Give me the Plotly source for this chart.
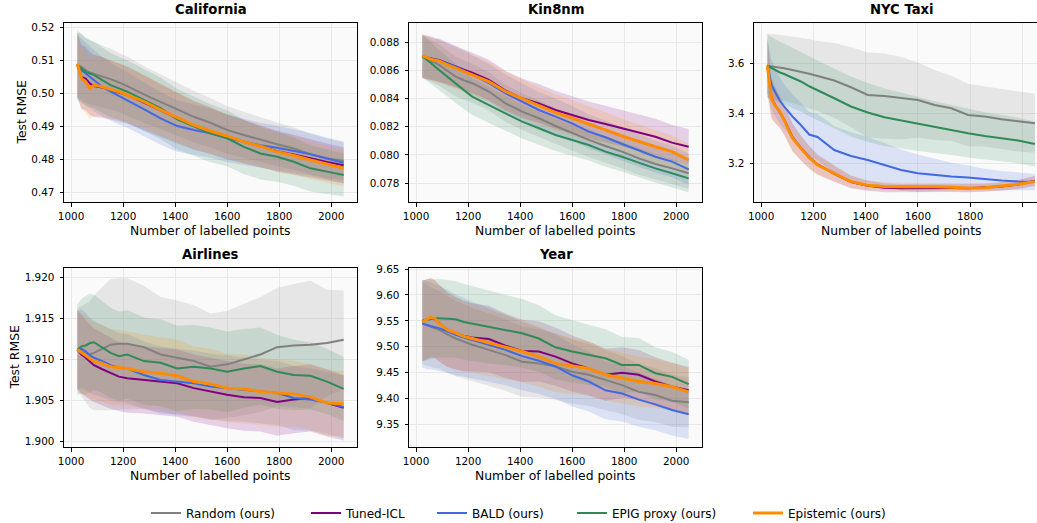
import plotly.graph_objects as go

W, H = 1037, 523

# ---------------- data ----------------
X_POINTS = [1024, 1040, 1056, 1072, 1088, 1120, 1152, 1184, 1216, 1280, 1344,
            1408, 1472, 1536, 1600, 1664, 1728, 1792, 1856, 1920, 1984, 2048]
X_TICKS = [1000, 1200, 1400, 1600, 1800, 2000]

METHODS = ["Random (ours)", "Tuned-ICL", "BALD (ours)", "EPIG proxy (ours)", "Epistemic (ours)"]
COLORS = ["#808080", "#800080", "#4169e1", "#2e8b57", "#ff8c00"]

# California
CAL_RANDOM = [0.5085, 0.5080, 0.5070, 0.5063, 0.5059, 0.5052, 0.5043, 0.5033, 0.5022, 0.4997, 0.4975,
              0.4952, 0.4929, 0.4911, 0.4889, 0.4874, 0.4859, 0.4846, 0.4833, 0.4816, 0.4803, 0.4796]
CAL_TUNED = [0.5085, 0.5050, 0.5045, 0.5030, 0.5022, 0.5018, 0.5010, 0.5003, 0.4995, 0.4972, 0.4948,
             0.4925, 0.4903, 0.4887, 0.4868, 0.4853, 0.4840, 0.4825, 0.4815, 0.4803, 0.4792, 0.4782]
CAL_BALD = [0.5085, 0.5070, 0.5060, 0.5050, 0.5038, 0.5020, 0.5005, 0.4992, 0.4980, 0.4952, 0.4924,
            0.4901, 0.4889, 0.4879, 0.4864, 0.4853, 0.4843, 0.4835, 0.4825, 0.4816, 0.4803, 0.4790]
CAL_EPIG = [0.5085, 0.5075, 0.5065, 0.5060, 0.5056, 0.5040, 0.5025, 0.5015, 0.5005, 0.4980, 0.4955,
            0.4921, 0.4901, 0.4879, 0.4864, 0.4838, 0.4818, 0.4808, 0.4793, 0.4773, 0.4763, 0.4753]
CAL_EPIST = [0.5090, 0.5045, 0.5035, 0.5015, 0.5025, 0.5020, 0.5012, 0.5005, 0.4995, 0.4975, 0.4950,
             0.4927, 0.4904, 0.4886, 0.4871, 0.4853, 0.4840, 0.4823, 0.4812, 0.4798, 0.4786, 0.4773]
CAL_RANDOM_SD = [0.0100, 0.0100, 0.0098, 0.0097, 0.0096, 0.0094, 0.0092, 0.0090, 0.0089, 0.0086, 0.0083,
                 0.0080, 0.0078, 0.0075, 0.0072, 0.0070, 0.0068, 0.0066, 0.0064, 0.0062, 0.0060, 0.0058]
CAL_TUNED_SD = [0.0098, 0.0097, 0.0096, 0.0095, 0.0094, 0.0092, 0.0090, 0.0088, 0.0086, 0.0083, 0.0080,
                0.0077, 0.0074, 0.0071, 0.0068, 0.0066, 0.0064, 0.0062, 0.0060, 0.0058, 0.0056, 0.0055]
CAL_BALD_SD = [0.0095, 0.0095, 0.0094, 0.0093, 0.0092, 0.0090, 0.0088, 0.0086, 0.0084, 0.0082, 0.0080,
               0.0078, 0.0076, 0.0074, 0.0072, 0.0070, 0.0068, 0.0067, 0.0066, 0.0064, 0.0063, 0.0062]
CAL_EPIG_SD = [0.0105, 0.0104, 0.0103, 0.0102, 0.0101, 0.0099, 0.0097, 0.0096, 0.0095, 0.0094, 0.0093,
               0.0092, 0.0090, 0.0088, 0.0085, 0.0082, 0.0079, 0.0076, 0.0073, 0.0070, 0.0067, 0.0065]
CAL_EPIST_SD = [0.0095, 0.0095, 0.0094, 0.0093, 0.0092, 0.0090, 0.0088, 0.0086, 0.0084, 0.0081, 0.0078,
                0.0075, 0.0072, 0.0070, 0.0067, 0.0065, 0.0063, 0.0061, 0.0059, 0.0057, 0.0056, 0.0055]

# Kin8nm
KIN_RANDOM = [0.08700, 0.08685, 0.08670, 0.08652, 0.08639, 0.08598, 0.08556, 0.08530, 0.08509, 0.08450, 0.08366,
              0.08307, 0.08260, 0.08205, 0.08153, 0.08106, 0.08063, 0.08023, 0.07975, 0.07935, 0.07904, 0.07869]
KIN_TUNED = [0.08700, 0.08695, 0.08688, 0.08680, 0.08674, 0.08650, 0.08627, 0.08605, 0.08584, 0.08532, 0.08456,
             0.08402, 0.08366, 0.08319, 0.08283, 0.08248, 0.08219, 0.08189, 0.08158, 0.08129, 0.08087, 0.08058]
KIN_BALD = [0.08700, 0.08690, 0.08682, 0.08676, 0.08670, 0.08650, 0.08627, 0.08598, 0.08568, 0.08509, 0.08437,
            0.08378, 0.08319, 0.08272, 0.08224, 0.08165, 0.08125, 0.08077, 0.08030, 0.07987, 0.07952, 0.07897]
KIN_EPIG = [0.08700, 0.08680, 0.08655, 0.08628, 0.08603, 0.08555, 0.08509, 0.08460, 0.08414, 0.08355, 0.08295,
            0.08236, 0.08189, 0.08141, 0.08106, 0.08070, 0.08023, 0.07987, 0.07945, 0.07904, 0.07869, 0.07833]
KIN_EPIST = [0.08705, 0.08690, 0.08680, 0.08672, 0.08668, 0.08640, 0.08615, 0.08590, 0.08568, 0.08520, 0.08450,
             0.08400, 0.08347, 0.08300, 0.08260, 0.08220, 0.08177, 0.08134, 0.08094, 0.08058, 0.08023, 0.07963]
KIN_RANDOM_SD = [0.00150, 0.00150, 0.00148, 0.00147, 0.00146, 0.00144, 0.00142, 0.00140, 0.00138, 0.00135, 0.00132,
                 0.00130, 0.00128, 0.00126, 0.00124, 0.00122, 0.00120, 0.00118, 0.00116, 0.00114, 0.00112, 0.00110]
KIN_TUNED_SD = [0.00155, 0.00155, 0.00154, 0.00153, 0.00152, 0.00150, 0.00148, 0.00146, 0.00145, 0.00143, 0.00141,
                0.00140, 0.00138, 0.00136, 0.00134, 0.00132, 0.00130, 0.00129, 0.00128, 0.00127, 0.00126, 0.00125]
KIN_BALD_SD = [0.00150, 0.00150, 0.00149, 0.00148, 0.00147, 0.00145, 0.00143, 0.00141, 0.00139, 0.00136, 0.00133,
               0.00130, 0.00128, 0.00126, 0.00124, 0.00122, 0.00120, 0.00118, 0.00116, 0.00114, 0.00112, 0.00110]
KIN_EPIG_SD = [0.00150, 0.00149, 0.00147, 0.00145, 0.00143, 0.00140, 0.00137, 0.00134, 0.00131, 0.00127, 0.00123,
               0.00120, 0.00117, 0.00114, 0.00112, 0.00110, 0.00108, 0.00106, 0.00104, 0.00102, 0.00101, 0.00100]
KIN_EPIST_SD = [0.00155, 0.00155, 0.00154, 0.00153, 0.00152, 0.00150, 0.00148, 0.00146, 0.00144, 0.00141, 0.00138,
                0.00135, 0.00133, 0.00131, 0.00129, 0.00127, 0.00125, 0.00123, 0.00121, 0.00119, 0.00117, 0.00115]

# NYC Taxi
NYC_RANDOM = [3.590, 3.588, 3.585, 3.582, 3.580, 3.573, 3.567, 3.558, 3.549, 3.531, 3.504,
              3.473, 3.469, 3.460, 3.453, 3.433, 3.420, 3.393, 3.387, 3.376, 3.367, 3.360]
NYC_TUNED = [3.590, 3.460, 3.430, 3.405, 3.375, 3.305, 3.262, 3.225, 3.195, 3.158, 3.125,
             3.110, 3.102, 3.100, 3.101, 3.100, 3.101, 3.100, 3.103, 3.107, 3.115, 3.130]
NYC_BALD = [3.590, 3.513, 3.480, 3.450, 3.427, 3.387, 3.353, 3.315, 3.305, 3.253, 3.229,
            3.213, 3.193, 3.173, 3.160, 3.153, 3.147, 3.143, 3.136, 3.131, 3.127, 3.125]
NYC_EPIG = [3.590, 3.580, 3.572, 3.563, 3.557, 3.542, 3.527, 3.508, 3.491, 3.460, 3.427,
            3.403, 3.384, 3.371, 3.357, 3.344, 3.333, 3.320, 3.309, 3.300, 3.291, 3.277]
NYC_EPIST = [3.590, 3.455, 3.427, 3.407, 3.373, 3.300, 3.260, 3.222, 3.193, 3.160, 3.127,
             3.112, 3.107, 3.106, 3.107, 3.106, 3.104, 3.101, 3.102, 3.108, 3.116, 3.127]
NYC_RANDOM_SD = [0.130, 0.130, 0.130, 0.130, 0.130, 0.132, 0.135, 0.138, 0.140, 0.150, 0.160,
                 0.170, 0.170, 0.165, 0.150, 0.140, 0.130, 0.125, 0.120, 0.120, 0.120, 0.118]
NYC_TUNED_SD = [0.110, 0.080, 0.070, 0.065, 0.060, 0.055, 0.050, 0.045, 0.040, 0.032, 0.025,
                0.020, 0.018, 0.017, 0.016, 0.016, 0.016, 0.016, 0.016, 0.017, 0.018, 0.020]
NYC_BALD_SD = [0.110, 0.100, 0.095, 0.092, 0.090, 0.088, 0.088, 0.090, 0.092, 0.095, 0.095,
               0.092, 0.088, 0.082, 0.075, 0.065, 0.055, 0.048, 0.042, 0.038, 0.035, 0.033]
NYC_EPIG_SD = [0.125, 0.125, 0.124, 0.123, 0.122, 0.121, 0.120, 0.120, 0.120, 0.120, 0.120,
               0.118, 0.115, 0.112, 0.108, 0.104, 0.100, 0.097, 0.095, 0.093, 0.091, 0.090]
NYC_EPIST_SD = [0.110, 0.080, 0.070, 0.065, 0.060, 0.055, 0.050, 0.045, 0.040, 0.032, 0.025,
                0.020, 0.018, 0.017, 0.016, 0.016, 0.016, 0.016, 0.016, 0.017, 0.018, 0.020]

# Airlines
AIR_RANDOM = [1.9112, 1.9110, 1.9108, 1.9106, 1.9108, 1.9113, 1.9118, 1.9119, 1.9119, 1.9115, 1.9106,
              1.9102, 1.9098, 1.9091, 1.9094, 1.9100, 1.9106, 1.9115, 1.9117, 1.9118, 1.9120, 1.9124]
AIR_TUNED = [1.9112, 1.9106, 1.9102, 1.9097, 1.9093, 1.9088, 1.9083, 1.9079, 1.9077, 1.9075, 1.9073,
             1.9071, 1.9065, 1.9061, 1.9057, 1.9054, 1.9053, 1.9048, 1.9051, 1.9053, 1.9047, 1.9041]
AIR_BALD = [1.9112, 1.9113, 1.9110, 1.9105, 1.9102, 1.9098, 1.9093, 1.9090, 1.9089, 1.9081, 1.9075,
            1.9073, 1.9071, 1.9067, 1.9065, 1.9063, 1.9061, 1.9059, 1.9053, 1.9051, 1.9047, 1.9042]
AIR_EPIG = [1.9112, 1.9116, 1.9117, 1.9120, 1.9121, 1.9115, 1.9108, 1.9104, 1.9106, 1.9098, 1.9096,
            1.9089, 1.9091, 1.9089, 1.9085, 1.9089, 1.9092, 1.9085, 1.9081, 1.9080, 1.9073, 1.9064]
AIR_EPIST = [1.9112, 1.9108, 1.9104, 1.9101, 1.9098, 1.9095, 1.9091, 1.9090, 1.9089, 1.9085, 1.9083,
             1.9080, 1.9073, 1.9070, 1.9065, 1.9064, 1.9061, 1.9059, 1.9058, 1.9054, 1.9047, 1.9046]
AIR_RANDOM_SD = [0.0050, 0.0055, 0.0060, 0.0065, 0.0070, 0.0075, 0.0080, 0.0080, 0.0080, 0.0075, 0.0070,
                 0.0070, 0.0068, 0.0065, 0.0065, 0.0068, 0.0070, 0.0072, 0.0075, 0.0078, 0.0065, 0.0060]
AIR_TUNED_SD = [0.0048, 0.0048, 0.0047, 0.0046, 0.0045, 0.0044, 0.0043, 0.0042, 0.0042, 0.0041, 0.0041,
                0.0041, 0.0041, 0.0041, 0.0041, 0.0041, 0.0041, 0.0041, 0.0041, 0.0041, 0.0041, 0.0040]
AIR_BALD_SD = [0.0048, 0.0048, 0.0047, 0.0046, 0.0045, 0.0044, 0.0043, 0.0042, 0.0042, 0.0041, 0.0041,
               0.0040, 0.0040, 0.0040, 0.0040, 0.0039, 0.0039, 0.0039, 0.0039, 0.0038, 0.0038, 0.0038]
AIR_EPIG_SD = [0.0055, 0.0058, 0.0060, 0.0060, 0.0058, 0.0056, 0.0055, 0.0054, 0.0054, 0.0053, 0.0053,
               0.0052, 0.0051, 0.0050, 0.0049, 0.0048, 0.0047, 0.0045, 0.0043, 0.0041, 0.0040, 0.0039]
AIR_EPIST_SD = [0.0048, 0.0048, 0.0048, 0.0048, 0.0047, 0.0047, 0.0046, 0.0046, 0.0045, 0.0045, 0.0044,
                0.0044, 0.0043, 0.0043, 0.0042, 0.0042, 0.0041, 0.0041, 0.0040, 0.0040, 0.0040, 0.0040]

# Year
YEAR_RANDOM = [9.545, 9.542, 9.538, 9.535, 9.533, 9.524, 9.516, 9.510, 9.504, 9.494, 9.484,
               9.471, 9.468, 9.462, 9.452, 9.446, 9.436, 9.426, 9.413, 9.407, 9.396, 9.393]
YEAR_TUNED = [9.550, 9.553, 9.556, 9.553, 9.546, 9.533, 9.526, 9.521, 9.518, 9.515, 9.502,
              9.492, 9.491, 9.481, 9.468, 9.458, 9.446, 9.450, 9.446, 9.433, 9.423, 9.416]
YEAR_BALD = [9.545, 9.542, 9.540, 9.538, 9.536, 9.530, 9.523, 9.518, 9.513, 9.504, 9.494,
             9.482, 9.473, 9.462, 9.445, 9.433, 9.416, 9.410, 9.398, 9.389, 9.378, 9.370]
YEAR_EPIG = [9.550, 9.552, 9.553, 9.555, 9.555, 9.554, 9.553, 9.548, 9.545, 9.538, 9.533,
             9.526, 9.516, 9.499, 9.491, 9.484, 9.478, 9.465, 9.465, 9.449, 9.442, 9.428]
YEAR_EPIST = [9.548, 9.553, 9.557, 9.555, 9.545, 9.533, 9.526, 9.520, 9.516, 9.508, 9.499,
              9.491, 9.481, 9.468, 9.463, 9.458, 9.446, 9.439, 9.433, 9.429, 9.423, 9.413]
YEAR_RANDOM_SD = [0.078, 0.078, 0.077, 0.076, 0.075, 0.074, 0.073, 0.072, 0.071, 0.070, 0.069,
                  0.068, 0.066, 0.064, 0.062, 0.060, 0.058, 0.056, 0.054, 0.052, 0.050, 0.048]
YEAR_TUNED_SD = [0.078, 0.077, 0.076, 0.075, 0.074, 0.072, 0.070, 0.068, 0.066, 0.064, 0.062,
                 0.060, 0.058, 0.056, 0.054, 0.052, 0.050, 0.049, 0.048, 0.047, 0.046, 0.045]
YEAR_BALD_SD = [0.085, 0.085, 0.084, 0.083, 0.082, 0.080, 0.078, 0.076, 0.074, 0.071, 0.068,
                0.066, 0.064, 0.062, 0.060, 0.058, 0.056, 0.054, 0.052, 0.050, 0.049, 0.048]
YEAR_EPIG_SD = [0.078, 0.078, 0.077, 0.076, 0.076, 0.075, 0.074, 0.073, 0.072, 0.070, 0.068,
                0.066, 0.064, 0.062, 0.060, 0.058, 0.056, 0.054, 0.052, 0.050, 0.048, 0.047]
YEAR_EPIST_SD = [0.078, 0.077, 0.076, 0.075, 0.074, 0.072, 0.070, 0.068, 0.066, 0.064, 0.062,
                 0.060, 0.058, 0.056, 0.054, 0.052, 0.050, 0.049, 0.048, 0.047, 0.046, 0.045]

PANELS = [
    dict(title="California",
         means=[CAL_RANDOM, CAL_TUNED, CAL_BALD, CAL_EPIG, CAL_EPIST],
         sds=[CAL_RANDOM_SD, CAL_TUNED_SD, CAL_BALD_SD, CAL_EPIG_SD, CAL_EPIST_SD],
         box=(64, 357, 23, 202), xr=(972.8, 2099.2), yr=(0.4671, 0.5213),
         ytick=(0.47, 0.01), yfmt=".2f", ylabel_x=21),
    dict(title="Kin8nm",
         means=[KIN_RANDOM, KIN_TUNED, KIN_BALD, KIN_EPIG, KIN_EPIST],
         sds=[KIN_RANDOM_SD, KIN_TUNED_SD, KIN_BALD_SD, KIN_EPIG_SD, KIN_EPIST_SD],
         box=(409, 702, 23, 202), xr=(972.8, 2099.2), yr=(0.07665, 0.08937),
         ytick=(0.078, 0.002), yfmt=".3f", ylabel_x=None),
    dict(title="NYC Taxi",
         means=[NYC_RANDOM, NYC_TUNED, NYC_BALD, NYC_EPIG, NYC_EPIST],
         sds=[NYC_RANDOM_SD, NYC_TUNED_SD, NYC_BALD_SD, NYC_EPIG_SD, NYC_EPIST_SD],
         box=(754, 1037, 23, 202), xr=(972.8, 2056.0), yr=(3.045, 3.761),
         ytick=(3.2, 0.2), yfmt=".1f", ylabel_x=None),
    dict(title="Airlines",
         means=[AIR_RANDOM, AIR_TUNED, AIR_BALD, AIR_EPIG, AIR_EPIST],
         sds=[AIR_RANDOM_SD, AIR_TUNED_SD, AIR_BALD_SD, AIR_EPIG_SD, AIR_EPIST_SD],
         box=(64, 357, 268, 447), xr=(972.8, 2099.2), yr=(1.89932, 1.92115),
         ytick=(1.900, 0.005), yfmt=".3f", ylabel_x=14),
    dict(title="Year",
         means=[YEAR_RANDOM, YEAR_TUNED, YEAR_BALD, YEAR_EPIG, YEAR_EPIST],
         sds=[YEAR_RANDOM_SD, YEAR_TUNED_SD, YEAR_BALD_SD, YEAR_EPIG_SD, YEAR_EPIST_SD],
         box=(409, 702, 268, 447), xr=(972.8, 2099.2), yr=(9.3067, 9.652),
         ytick=(9.35, 0.05), yfmt=".2f", ylabel_x=None),
]

LEGEND_LINE_START = [152, 312, 438, 578, 754]

FONT = "DejaVu Sans"
TXT = "#000000"
TICK_SIZE = 10.4
LABEL_SIZE = 12.4
TITLE_SIZE = 13.2
LEGEND_SIZE = 12


def rgba(hex_color, a):
    h = hex_color.lstrip("#")
    r, g, b = int(h[0:2], 16), int(h[2:4], 16), int(h[4:6], 16)
    return f"rgba({r},{g},{b},{a})"


fig = go.Figure()
layout = dict(
    width=W, height=H, margin=dict(l=0, r=0, t=0, b=0, autoexpand=False),
    paper_bgcolor="white", plot_bgcolor="#fafafa",
    font=dict(family=FONT, size=11, color=TXT),
    annotations=[],
)

for i, p in enumerate(PANELS):
    n = i + 1
    xa = "xaxis" if n == 1 else f"xaxis{n}"
    ya = "yaxis" if n == 1 else f"yaxis{n}"
    xref = "x" if n == 1 else f"x{n}"
    yref = "y" if n == 1 else f"y{n}"
    x0, x1, y0, y1 = p["box"]
    dx = [x0 / W, min(x1 / W, 1.0)]
    dy = [1 - y1 / H, 1 - y0 / H]
    is_cut = x1 >= W
    ticktext = [str(t) for t in X_TICKS]
    if is_cut:
        ticktext[-1] = ""
    layout[xa] = dict(
        domain=dx, range=list(p["xr"]), anchor=yref, automargin=False,
        tickmode="array", tickvals=X_TICKS, ticktext=ticktext, ticklabeloverflow="allow",
        showgrid=True, gridcolor="#e8e8e8", gridwidth=1,
        zeroline=False, showline=True, linecolor="black", linewidth=1, mirror=True,
        ticks="outside", ticklen=3.5, tickwidth=1, tickcolor="black",
        ticklabelstandoff=1,
        tickfont=dict(size=TICK_SIZE, color=TXT),
    )
    layout[ya] = dict(
        domain=dy, range=list(p["yr"]), anchor=xref, automargin=False,
        tickmode="linear", tick0=p["ytick"][0], dtick=p["ytick"][1], tickformat=p["yfmt"],
        ticklabeloverflow="allow",
        showgrid=True, gridcolor="#e8e8e8", gridwidth=1,
        zeroline=False, showline=True, linecolor="black", linewidth=1,
        mirror=(not is_cut),
        ticks="outside", ticklen=3.5, tickwidth=1, tickcolor="black",
        ticklabelstandoff=3,
        tickfont=dict(size=TICK_SIZE, color=TXT),
    )
    # panel title
    cx = (x0 + (1049 if is_cut else x1)) / 2
    layout["annotations"].append(dict(
        text=f"<b>{p['title']}</b>", x=cx / W, y=1 - (y0 - 4) / H,
        xref="paper", yref="paper", xanchor="center", yanchor="bottom",
        showarrow=False, font=dict(size=TITLE_SIZE, color=TXT, family=FONT),
    ))
    # x-axis title
    layout["annotations"].append(dict(
        text="Number of labelled points", x=cx / W, y=1 - (y1 + 28) / H,
        xref="paper", yref="paper", xanchor="center", yanchor="middle",
        showarrow=False, font=dict(size=LABEL_SIZE, color=TXT, family=FONT),
    ))
    if p["ylabel_x"] is not None:
        layout["annotations"].append(dict(
            text="Test RMSE", x=p["ylabel_x"] / W, y=1 - ((y0 + y1) / 2) / H,
            xref="paper", yref="paper", xanchor="center", yanchor="middle",
            textangle=-90, showarrow=False, font=dict(size=LABEL_SIZE, color=TXT, family=FONT),
        ))

    # bands
    for k in range(5):
        m, s = p["means"][k], p["sds"][k]
        upper = [a + b for a, b in zip(m, s)]
        lower = [a - b for a, b in zip(m, s)]
        fig.add_trace(go.Scatter(
            x=X_POINTS + X_POINTS[::-1], y=upper + lower[::-1],
            fill="toself", fillcolor=rgba(COLORS[k], 0.17),
            line=dict(width=0), mode="lines", hoverinfo="skip",
            showlegend=False, xaxis=xref, yaxis=yref,
        ))
    # lines
    for k in range(5):
        leg = "legend" if k == 0 else f"legend{k + 1}"
        fig.add_trace(go.Scatter(
            x=X_POINTS, y=p["means"][k], mode="lines", name=METHODS[k],
            line=dict(color=COLORS[k], width=3 if k == 4 else 2),
            showlegend=(n == 1), legend=leg, xaxis=xref, yaxis=yref,
        ))

    if is_cut:
        # last tick label of the cut-off panel, drawn as an unclipped text mark
        span = p["yr"][1] - p["yr"][0]
        y_lab = p["yr"][0] - span * 11.0 / (y1 - y0)
        fig.add_trace(go.Scatter(
            x=[X_TICKS[-1]], y=[y_lab], mode="text", text=[str(X_TICKS[-1])],
            textposition="middle center", cliponaxis=False,
            textfont=dict(size=TICK_SIZE, color=TXT, family=FONT),
            showlegend=False, hoverinfo="skip", xaxis=xref, yaxis=yref,
        ))

for k in range(5):
    key = "legend" if k == 0 else f"legend{k + 1}"
    layout[key] = dict(
        x=(LEGEND_LINE_START[k] - 6) / W, y=1 - 513 / H, xanchor="left", yanchor="middle",
        orientation="h", bgcolor="rgba(0,0,0,0)", borderwidth=0,
        font=dict(size=LEGEND_SIZE, color=TXT, family=FONT),
    )

fig.update_layout(**layout)
fig.write_html("out.html")
